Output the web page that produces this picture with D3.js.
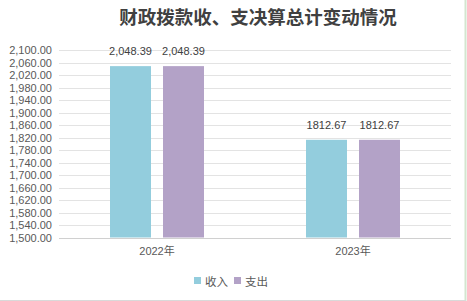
<!DOCTYPE html>
<html><head><meta charset="utf-8">
<script src="https://cdn.jsdelivr.net/npm/d3@7"></script>
<style>html,body{margin:0;padding:0;background:#fff;}svg{display:block;}</style>
</head><body>
<svg id="c" width="467" height="301"></svg>
<script>
const title = "财政拨款收、支决算总计变动情况";
const categories = ["2022年", "2023年"];
const seriesNames = ["收入", "支出"];
const income = [2048.39, 1812.67];
const expense = [2048.39, 1812.67];
const incomeLabels = ["2,048.39", "1812.67"];
const expenseLabels = ["2,048.39", "1812.67"];
const yMin = 1500, yMax = 2100, yStep = 40;
const colors = ["#93cddd", "#b3a2c7"];

const svg = d3.select("#c");
const W = 467, H = 301;
const plot = {l: 59, r: 451, t: 50, b: 237.5};

// borders
svg.append("line").attr("x1", 465.5).attr("x2", 465.5).attr("y1", 0).attr("y2", 301)
  .attr("stroke", "#d3e6cf").attr("stroke-width", 2);
svg.append("line").attr("x1", 0).attr("x2", 466).attr("y1", 300.5).attr("y2", 300.5)
  .attr("stroke", "#d9d9d9").attr("stroke-width", 1);

svg.append("text").attr("x", 258).attr("y", 24).attr("text-anchor", "middle")
  .attr("font-family", "'Noto Sans CJK SC', sans-serif").attr("font-weight", "bold")
  .attr("font-size", 18.5).attr("fill", "#404040").text(title);

const y = d3.scaleLinear().domain([yMin, yMax]).range([plot.b, plot.t]);
const ticks = d3.range(yMin, yMax + 0.001, yStep);

const x0 = d3.scaleBand().domain(categories).range([plot.l, plot.r]).padding(0);
const x1 = d3.scaleBand().domain(seriesNames).range([0, x0.bandwidth()])
  .paddingInner(12 / 53).paddingOuter(102 / 106);

// gridlines
const yAxis = d3.axisLeft(y).tickValues(ticks).tickFormat(d3.format(",.2f")).tickSize(-(plot.r - plot.l)).tickPadding(7);
const ga = svg.append("g").attr("transform", `translate(${plot.l},0)`).call(yAxis);
ga.select(".domain").remove();
ga.selectAll(".tick line").attr("stroke", "#e3e3e3").attr("stroke-width", 1).attr("shape-rendering", "crispEdges");
ga.selectAll(".tick text").attr("font-family", "'Liberation Sans', Arial, sans-serif").attr("font-size", 11).attr("fill", "#595959");
ga.selectAll(".tick").filter(d => d === yMin).select("line").attr("stroke", "#d0d0d0");

const data = categories.map((c, i) => ({cat: c, vals: [
  {s: seriesNames[0], v: income[i], lab: incomeLabels[i], col: colors[0]},
  {s: seriesNames[1], v: expense[i], lab: expenseLabels[i], col: colors[1]}
]}));

const groups = svg.append("g").selectAll("g").data(data).join("g")
  .attr("transform", d => `translate(${x0(d.cat)},0)`);
groups.selectAll("rect").data(d => d.vals).join("rect")
  .attr("x", d => x1(d.s)).attr("width", x1.bandwidth())
  .attr("y", d => y(d.v)).attr("height", d => y(yMin) - y(d.v))
  .attr("fill", d => d.col);
groups.selectAll("text").data(d => d.vals).join("text")
  .attr("x", d => x1(d.s) + x1.bandwidth() / 2).attr("y", d => y(d.v) - 11)
  .attr("text-anchor", "middle").attr("font-family", "'Liberation Sans', Arial, sans-serif")
  .attr("font-size", 11).attr("fill", "#404040").text(d => d.lab);

// x axis labels
const xAxis = d3.axisBottom(x0).tickSize(0).tickPadding(10);
const gx = svg.append("g").attr("transform", `translate(0,${plot.b})`).call(xAxis);
gx.select(".domain").remove();
gx.selectAll(".tick text").attr("font-family", "'Liberation Sans', 'Noto Sans CJK SC', sans-serif")
  .attr("font-size", 11).attr("fill", "#595959");

// legend
const leg = svg.append("g");
const legX = [194, 234];
seriesNames.forEach((s, i) => {
  leg.append("rect").attr("x", legX[i]).attr("y", 277).attr("width", 7).attr("height", 7).attr("fill", colors[i]);
  leg.append("text").attr("x", legX[i] + 11).attr("y", 285.5).attr("font-family", "'Noto Sans CJK SC', sans-serif")
    .attr("font-size", 11.5).attr("fill", "#595959").text(s);
});
</script>
</body></html>
